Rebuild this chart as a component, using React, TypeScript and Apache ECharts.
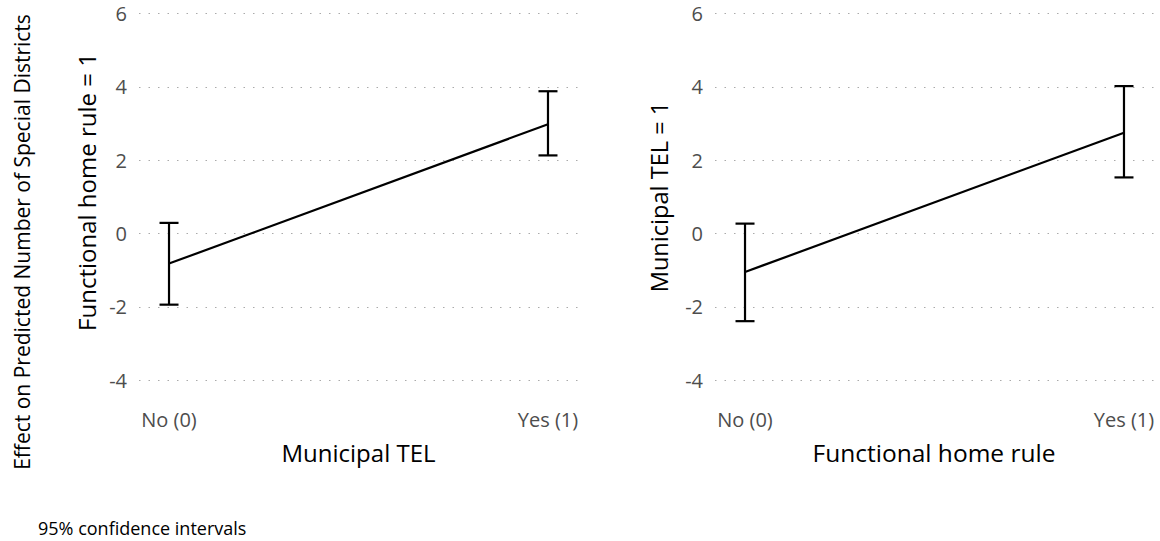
import React, { useEffect, useRef } from "react";
import * as echarts from "echarts";

const xTickLabels = ["No (0)", "Yes (1)"];
const xPositions = [0, 1];
const yTicks = { min: -4, max: 6, interval: 2 };

// Left panel: Functional home rule = 1, x = Municipal TEL
const leftMean = [-0.82, 2.98];
const leftLow = [-1.94, 2.13];
const leftHigh = [0.29, 3.88];

// Right panel: Municipal TEL = 1, x = Functional home rule
const rightMean = [-1.05, 2.75];
const rightLow = [-2.39, 1.53];
const rightHigh = [0.27, 4.02];

const leftXTitle = "Municipal TEL";
const rightXTitle = "Functional home rule";
const leftYTitle = "Functional home rule = 1";
const rightYTitle = "Municipal TEL = 1";
const outerTitle = "Effect on Predicted Number of Special Districts";
const caption = "95% confidence intervals";

const FONT = "'Open Sans', 'Noto Sans', sans-serif";

export default function App() {
  const ref = useRef<HTMLDivElement>(null);
  useEffect(() => {
    document.body.style.margin = "0";
    if (!ref.current) return;
    const chart = echarts.init(ref.current, undefined, { renderer: "svg" });

    const pad = 0.0792;
    const makeX = (gi: number) => ({
      type: "value",
      gridIndex: gi,
      min: -pad,
      max: 1 + pad,
      splitLine: { show: false },
      axisLine: { show: false },
      axisTick: { show: false },
      axisLabel: {
        customValues: xPositions,
        formatter: (v: number) => xTickLabels[Math.round(v)],
        color: "#4d4d4d",
        fontSize: 20,
        fontFamily: FONT,
        margin: 29,
      },
    });
    const makeY = (gi: number) => ({
      type: "value",
      gridIndex: gi,
      min: yTicks.min,
      max: yTicks.max,
      interval: yTicks.interval,
      axisLine: { show: false },
      axisTick: { show: false },
      axisLabel: { color: "#4d4d4d", fontSize: 20, fontFamily: FONT, margin: 12 },
      splitLine: { show: true, lineStyle: { color: "#aaa", type: [1.5, 8], width: 1 } },
    });

    const errData = (lo: number[], hi: number[]) =>
      xPositions.map((x, i) => [x, lo[i], hi[i]]);

    const renderErr = (params: any, api: any) => {
      const x = api.value(0);
      const lo = api.coord([x, api.value(1)]);
      const hi = api.coord([x, api.value(2)]);
      const w = 9.5;
      const style = { stroke: "#000", lineWidth: 2.2 };
      return {
        type: "group",
        children: [
          { type: "line", shape: { x1: lo[0], y1: lo[1], x2: hi[0], y2: hi[1] }, style },
          { type: "line", shape: { x1: lo[0] - w, y1: lo[1], x2: lo[0] + w, y2: lo[1] }, style },
          { type: "line", shape: { x1: hi[0] - w, y1: hi[1], x2: hi[0] + w, y2: hi[1] }, style },
        ],
      };
    };

    const lineData = (m: number[]) => xPositions.map((x, i) => [x, m[i]]);

    const titleStyle = (text: string, size: number) => ({
      text,
      fill: "#000",
      fontSize: size,
      fontFamily: FONT,
      align: "center",
      verticalAlign: "middle",
    });

    chart.setOption({
      animation: false,
      backgroundColor: "#fff",
      grid: [
        { left: 139, top: 13.5, width: 439, height: 366.7 },
        { left: 715, top: 13.5, width: 439, height: 366.7 },
      ],
      xAxis: [makeX(0), makeX(1)],
      yAxis: [makeY(0), makeY(1)],
      series: [
        {
          type: "line",
          xAxisIndex: 0,
          yAxisIndex: 0,
          data: lineData(leftMean),
          symbol: "none",
          lineStyle: { color: "#000", width: 2.2 },
        },
        {
          type: "custom",
          xAxisIndex: 0,
          yAxisIndex: 0,
          data: errData(leftLow, leftHigh),
          renderItem: renderErr,
        },
        {
          type: "line",
          xAxisIndex: 1,
          yAxisIndex: 1,
          data: lineData(rightMean),
          symbol: "none",
          lineStyle: { color: "#000", width: 2.2 },
        },
        {
          type: "custom",
          xAxisIndex: 1,
          yAxisIndex: 1,
          data: errData(rightLow, rightHigh),
          renderItem: renderErr,
        },
      ],
      graphic: [
        { type: "text", x: 358.5, y: 452, style: titleStyle(leftXTitle, 24) },
        { type: "text", x: 934, y: 452, style: titleStyle(rightXTitle, 24.5) },
        { type: "text", x: 86, y: 192, rotation: Math.PI / 2, style: titleStyle(leftYTitle, 24) },
        { type: "text", x: 659, y: 197, rotation: Math.PI / 2, style: titleStyle(rightYTitle, 23.6) },
        { type: "text", x: 22, y: 242, rotation: Math.PI / 2, style: titleStyle(outerTitle, 21) },
        {
          type: "text",
          x: 38,
          y: 528,
          style: { text: caption, fill: "#000", fontSize: 18, fontFamily: FONT, align: "left", verticalAlign: "middle" },
        },
      ],
    });
    return () => chart.dispose();
  }, []);
  return <div ref={ref} style={{ width: 1160, height: 541 }} />;
}
